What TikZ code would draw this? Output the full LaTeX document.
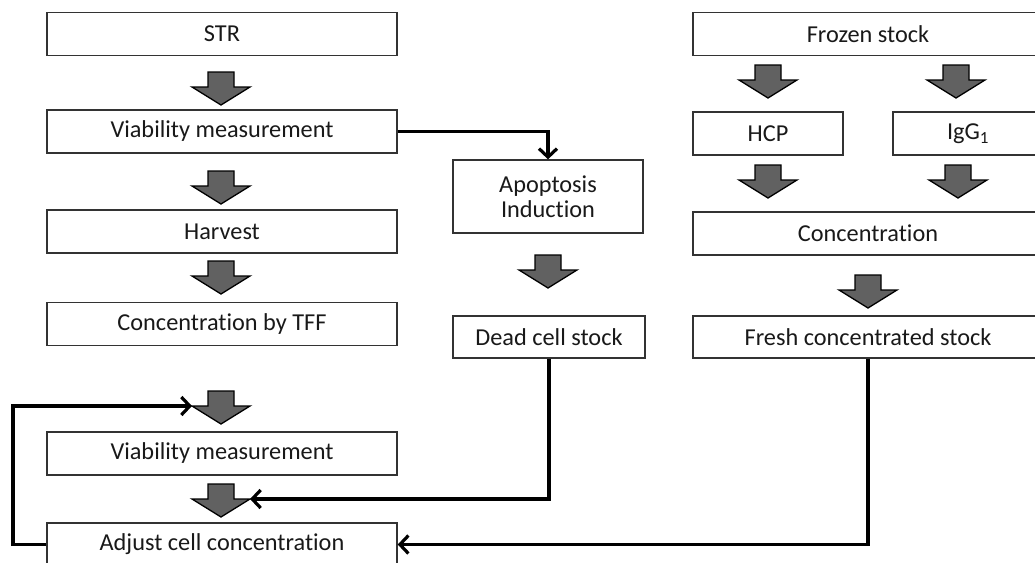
\documentclass[tikz,border=0pt]{standalone}
\usepackage{fontspec}
\setmainfont[Ligatures=NoCommon]{Carlito}
\usetikzlibrary{arrows.meta}
\tikzset{
  box/.style={draw=black!80, line width=1.4pt, fill=white, inner sep=0pt, font=\fontsize{24.3}{27}\selectfont, text=black!90},
  conn/.style={line width=3.2pt, black, -{Straight Barb[length=8.5pt,width=18pt]}, line join=miter},
  barr/.pic={
    \draw[line width=1.3pt, fill=black!62, line join=miter]
      (-13,0) -- (13,0) -- (13,15) -- (29,15) -- (0,33) -- (-29,15) -- (-13,15) -- cycle;
    \coordinate (-l) at (-29,15);
    \coordinate (-r) at (29,15);
  }
}
\begin{document}
\begin{tikzpicture}[x=1pt,y=-1pt]
\useasboundingbox (0,0) rectangle (1035,562);
% left column
\node[box, minimum width=350pt, minimum height=43pt] (str) at (222,34) {STR};
\node[box, minimum width=350pt, minimum height=43pt] (via1) at (222,131.5) {Viability measurement};
\node[box, minimum width=350pt, minimum height=43pt] (harv) at (222,231.5) {Harvest};
\node[box, minimum width=350pt, minimum height=43pt] (tff) at (222,324) {Concentration by TFF};
\node[box, minimum width=350pt, minimum height=43pt] (via2) at (222,453.5) {Viability measurement};
\node[box, minimum width=350pt, minimum height=43pt] (adj) at (222,544.5) {Adjust cell concentration};
% middle column
\node[box, minimum width=190pt, minimum height=73pt, align=center, text depth=0pt] (apo) at (548,196.5) {Apoptosis\\[-2pt]Induction};
\node[box, minimum width=192pt, minimum height=42pt] (dead) at (549,337) {Dead cell stock};
% right column
\node[box, minimum width=350pt, minimum height=43pt] (froz) at (868,34) {Frozen stock};
\node[box, minimum width=150pt, minimum height=43pt] (hcp) at (768,133.5) {HCP};
\node[box, minimum width=150pt, minimum height=43pt] (igg) at (968,133.5) {IgG\textsubscript{1}};
\node[box, minimum width=350pt, minimum height=43pt] (conc) at (868,233.5) {Concentration};
\node[box, minimum width=350pt, minimum height=42pt] (fresh) at (868,337) {Fresh concentrated stock};
% block arrows
\pic (a1) at (221,72) {barr};
\pic (a2) at (221,171) {barr};
\pic (a3) at (221,261) {barr};
\pic (a4) at (221,391) {barr};
\pic (a5) at (221,484) {barr};
\pic (a6) at (548,255) {barr};
\pic (a7) at (768,65) {barr};
\pic (a8) at (956,65) {barr};
\pic (a9) at (768,165) {barr};
\pic (a10) at (958,165) {barr};
\pic (a11) at (868,275) {barr};
% connectors
\draw[conn] (via1.east) -| (apo.north);
\draw[conn] (dead.south) |- (a5-r);
\draw[conn] (fresh.south) |- (adj.east);
\coordinate (lp) at (13,0);
\draw[conn] (adj.west) -| (lp |- a4-l) -- (a4-l);
\end{tikzpicture}
\end{document}
